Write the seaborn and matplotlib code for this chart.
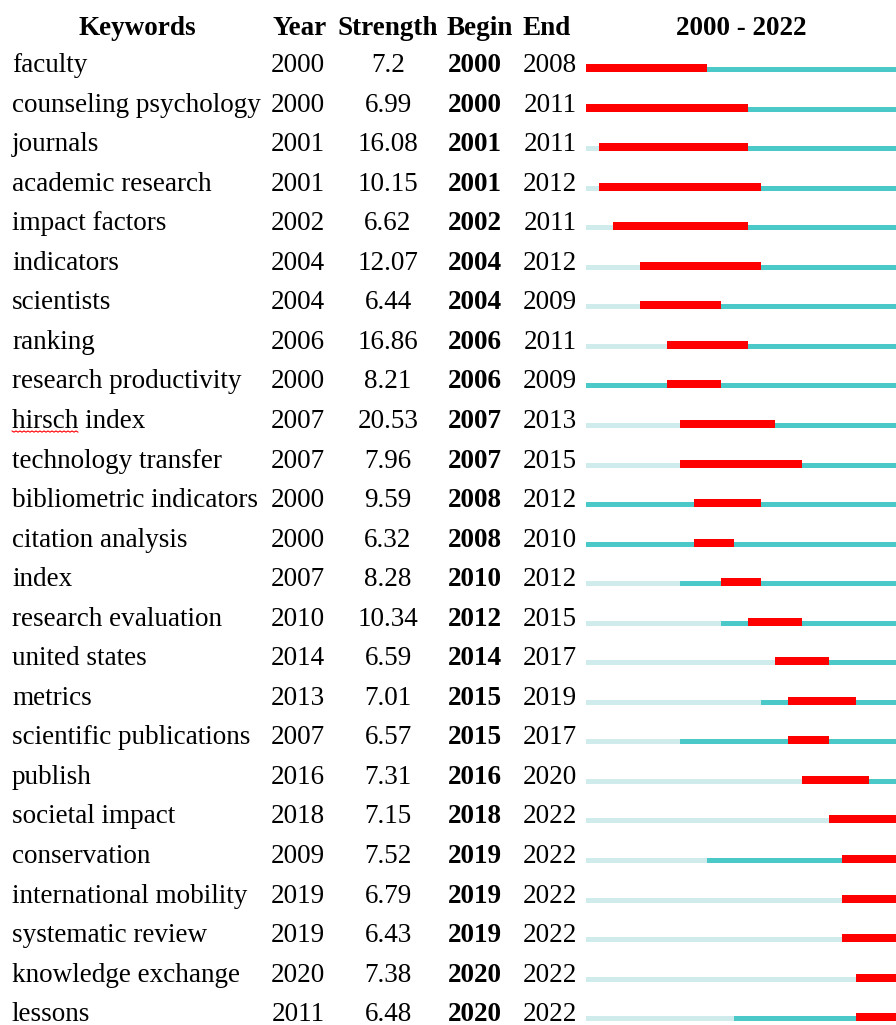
import matplotlib
matplotlib.use("Agg")
import matplotlib.pyplot as plt
import matplotlib.transforms as mtransforms
import numpy as np
import seaborn as sns
import pandas as pd

keywords = ["faculty", "counseling psychology", "journals", "academic research",
            "impact factors", "indicators", "scientists", "ranking",
            "research productivity", "hirsch index", "technology transfer",
            "bibliometric indicators", "citation analysis", "index",
            "research evaluation", "united states", "metrics",
            "scientific publications", "publish", "societal impact",
            "conservation", "international mobility", "systematic review",
            "knowledge exchange", "lessons"]
years = [2000, 2000, 2001, 2001, 2002, 2004, 2004, 2006, 2000, 2007, 2007, 2000,
         2000, 2007, 2010, 2014, 2013, 2007, 2016, 2018, 2009, 2019, 2019, 2020, 2011]
strengths = [7.2, 6.99, 16.08, 10.15, 6.62, 12.07, 6.44, 16.86, 8.21, 20.53, 7.96,
             9.59, 6.32, 8.28, 10.34, 6.59, 7.01, 6.57, 7.31, 7.15, 7.52, 6.79,
             6.43, 7.38, 6.48]
begins = [2000, 2000, 2001, 2001, 2002, 2004, 2004, 2006, 2006, 2007, 2007, 2008,
          2008, 2010, 2012, 2014, 2015, 2015, 2016, 2018, 2019, 2019, 2019, 2020, 2020]
ends = [2008, 2011, 2011, 2012, 2011, 2012, 2009, 2011, 2009, 2013, 2015, 2012,
        2010, 2012, 2015, 2017, 2019, 2017, 2020, 2022, 2022, 2022, 2022, 2022, 2022]
first_year, last_year = 2000, 2022

df = pd.DataFrame({"Keywords": keywords, "Year": years, "Strength": strengths,
                   "Begin": begins, "End": ends})
df["row"] = range(len(df))

sns.set_theme(style="white")
plt.rcParams["font.family"] = ["Liberation Serif", "DejaVu Serif"]
plt.rcParams["text.color"] = "black"

W, H = 896, 1025
fig = plt.figure(figsize=(W / 100, H / 100), dpi=100)
row_px, row0_px = 39.55, 68
ax = fig.add_axes([586 / W, 0, 310 / W, 1])
ax.set_xlim(first_year, last_year + 1)
ax.set_ylim((H - row0_px) / row_px, -row0_px / row_px)
ax.axis("off")

light, teal, red = "#cfebeb", "#4bc8c8", "#ff0000"
thin, thick = 5 / row_px, 8 / row_px
off = (thick - thin) / 2

# whole span, then from first appearance, then the burst
ax.barh(df["row"] + off, last_year + 1 - first_year, left=first_year,
        height=thin, color=light, linewidth=0)
ax.barh(df["row"] + off, last_year + 1 - df["Year"], left=df["Year"],
        height=thin, color=teal, linewidth=0)
ax.barh(df["row"], df["End"] + 1 - df["Begin"], left=df["Begin"],
        height=thick, color=red, linewidth=0)

tr = mtransforms.blended_transform_factory(fig.transFigure, ax.transData)
fs = 19.5
head_y = (35 - row0_px) / row_px
headers = [("Keywords", 137), ("Year", 300), ("Strength", 388), ("Begin", 480),
           ("End", 547), (f"{first_year} - {last_year}", 741)]
for label, xc in headers:
    ax.text(xc / W, head_y, label, transform=tr, ha="center", va="baseline",
            fontsize=fs, fontweight="bold")

text_dy = 4 / row_px
for _, r in df.iterrows():
    y = r["row"] + text_dy
    ax.text(12 / W, y, r["Keywords"], transform=tr, ha="left", va="baseline", fontsize=fs)
    ax.text(298 / W, y, str(r["Year"]), transform=tr, ha="center", va="baseline", fontsize=fs)
    ax.text(388 / W, y, f"{r['Strength']:g}", transform=tr, ha="center", va="baseline", fontsize=fs)
    ax.text(475 / W, y, str(r["Begin"]), transform=tr, ha="center", va="baseline",
            fontsize=fs, fontweight="bold")
    ax.text(550 / W, y, str(r["End"]), transform=tr, ha="center", va="baseline", fontsize=fs)

# spell-check squiggle under "hirsch"
fig.canvas.draw()
renderer = fig.canvas.get_renderer()
i = keywords.index("hirsch index")
probe = ax.text(12 / W, i + text_dy, "hirsch", transform=tr, ha="left",
                va="baseline", fontsize=fs, alpha=0)
bb = probe.get_window_extent(renderer)
base = ax.transData.transform((first_year, i + text_dy))[1]
zx = np.arange(bb.x0, bb.x1 + 1, 2.0)
zy = base - 3 - 1.2 * (np.arange(len(zx)) % 2)
fig.add_artist(plt.Line2D(zx, zy, transform=mtransforms.IdentityTransform(),
                          color=red, linewidth=0.8))

fig.savefig("out.png", dpi=100)
